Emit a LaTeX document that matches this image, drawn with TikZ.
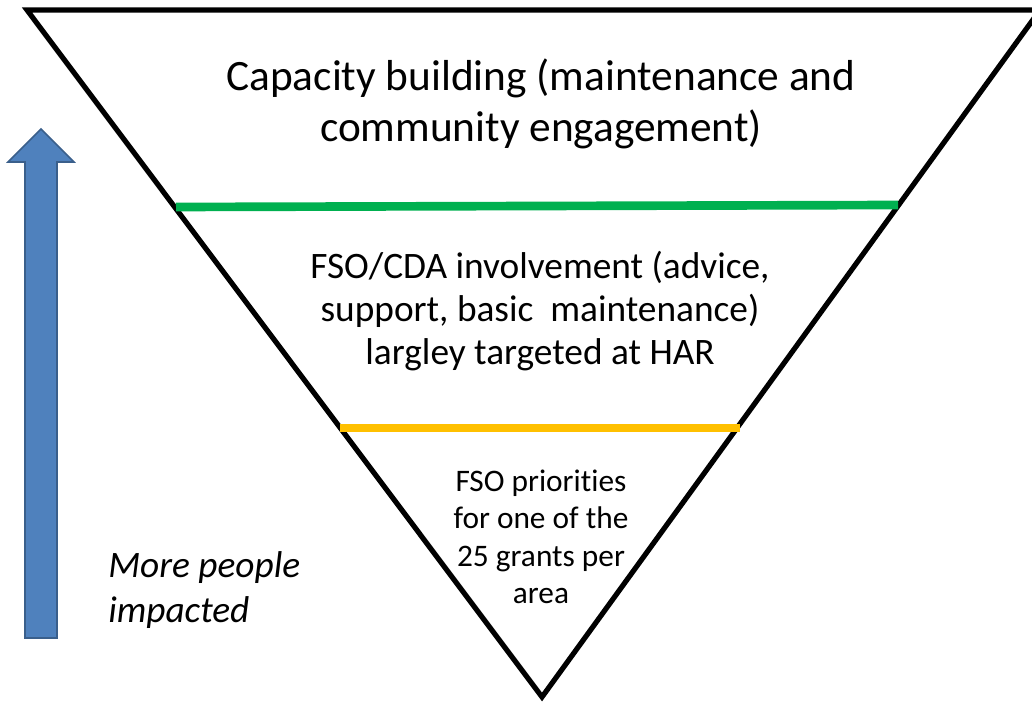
\documentclass[tikz,border=0pt]{standalone}
\usepackage{fontspec}
\setmainfont{Carlito}[RawFeature=-liga]
\usepackage{xcolor}
\usepackage{tikz}

\definecolor{arrowblue}{HTML}{4F81BD}
\definecolor{arrowedge}{HTML}{3A5F8B}
\definecolor{levelgreen}{HTML}{00B050}
\definecolor{levelorange}{HTML}{FFC000}

\begin{document}
\begin{tikzpicture}[x=0.75pt,y=-0.75pt]
			\tikzstyle{funnel} = [draw, line width=3.9pt, line join=miter]
			\tikzstyle{level} = [line width=6.5pt]
			\tikzstyle{tier} = [align=center, inner sep=0pt]
			\tikzset{impact/.style = {fill=arrowblue, draw=arrowedge, line width=1.2pt}}
			
			\useasboundingbox (0,0) rectangle (1032,702);
			
			\coordinate (topleft) at (27,10);
			\coordinate (topright) at (1040,10);
			\coordinate (tip) at (542,697);
			\draw[funnel] (topleft) -- (topright) -- (tip) -- cycle;
			
			\coordinate (greenleft) at (176,207);
			\coordinate (greenright) at (898,205);
			\draw[level, draw=levelgreen] (greenleft) -- (greenright);
			
			\coordinate (orangeleft) at (340,428);
			\coordinate (orangeright) at (740,428);
			\draw[level, draw=levelorange] (orangeleft) -- (orangeright);
			
			\node[tier, font=\fontsize{32.5}{38}\selectfont](capacity) at (541,104) {Capacity building (maintenance and\\community engagement)};
			\node[tier, font=\fontsize{28}{32.5}\selectfont](involvement) at (540,311) {FSO/CDA involvement (advice,\\support, basic\ \ maintenance)\\largley targeted at HAR};
			\node[tier, font=\fontsize{23.5}{28}\selectfont](priorities) at (541,537) {FSO priorities\\for one of the\\25 grants per\\area};
			
			\draw[impact] (25,638) -- (25,162) -- (8,162) -- (41,129) -- (74,162) -- (57,162) -- (57,638) -- cycle;
			\node[tier, align=left, anchor=west, font=\itshape\fontsize{28}{33.5}\selectfont](impacted) at (108,590) {More people\\impacted};
			
\end{tikzpicture}
\end{document}
